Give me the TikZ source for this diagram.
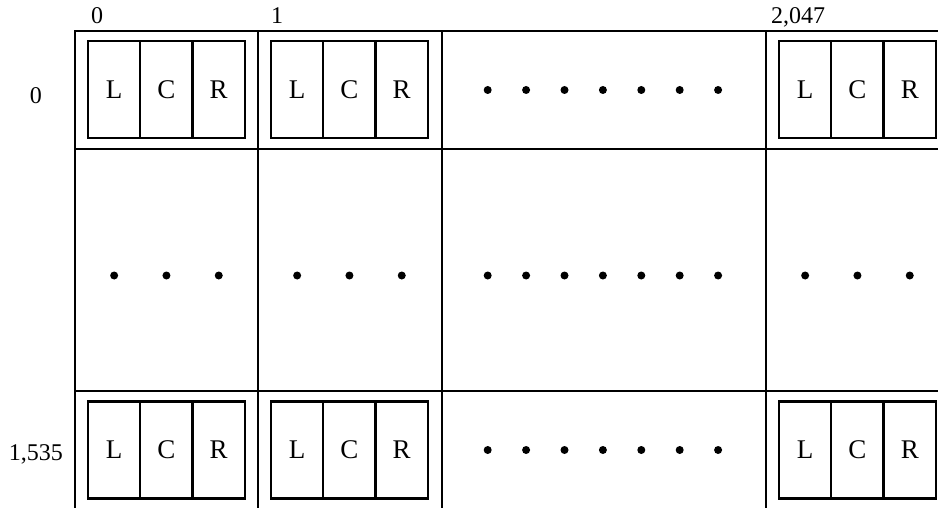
\documentclass[tikz,border=0pt]{standalone}
\usepackage{fontspec}
\setmainfont{Liberation Serif}
\begin{document}
\begin{tikzpicture}[x=0.5pt, y=-0.5pt, line width=1.15pt,
  cell/.style={draw, rectangle, minimum width=26.15pt, minimum height=48.5pt, inner sep=0pt, font=\fontsize{13.5}{15}\selectfont},
  idx/.style={anchor=base, inner sep=0pt, font=\fontsize{12}{14}\selectfont}]
\useasboundingbox (0,0) rectangle (938,508);

% Table
\draw (75,508) -- (75,31) -- (938,31);
\foreach \gx in {258,442,766} \draw (\gx,31) -- (\gx,508);
\foreach \gy in {149,391} \draw (75,\gy) -- (938,\gy);

% Indices
\node[idx] (col0) at (97,24) {0};
\node[idx] (col1) at (277,24) {1};
\node[idx] (colN) at (798,24) {2,047};
\node[idx] (row0) at (36,104) {0};
\node[idx] (rowN) at (36,460) {1,535};

% Entries
\foreach \bx/\cn in {88/0,271/1,779/N} {
  \foreach \lt [count=\i from 0] in {L,C,R} {
    \node[cell] (top-\cn-\lt) at ({\bx+26.15+52.3*\i},89.5) {\lt};
    \node[cell] (bot-\cn-\lt) at ({\bx+26.15+52.3*\i},450) {\lt};
    \fill ({\bx+26.15+52.3*\i},275.5) circle (4);
  }
}

% Dots
\foreach \dy in {90,275.5,450}
  \foreach \i in {0,...,6} \fill ({487.7+38.4*\i},\dy) circle (4);
\end{tikzpicture}
\end{document}
